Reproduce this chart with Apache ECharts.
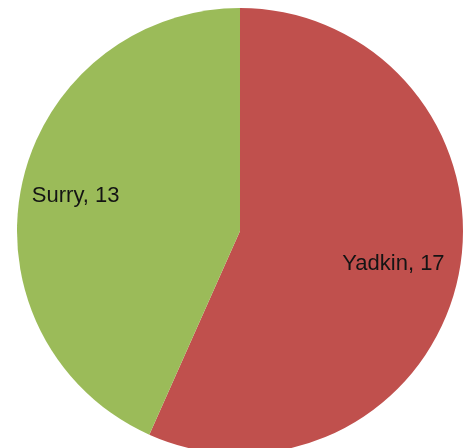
<!DOCTYPE html>
<html>
<head>
<meta charset="utf-8">
<script src="https://cdn.jsdelivr.net/npm/echarts@6/dist/echarts.min.js"></script>
<style>
html,body{margin:0;padding:0;background:#fff;}
#chart{width:465px;height:448px;}
</style>
</head>
<body>
<div id="chart"></div>
<script>
const categories = ["Yadkin", "Surry"];
const values = [17, 13];
const colors = ["#C0504D", "#9BBB59"];
const labelRadiusFrac = [0.69, 0.74];

const R = 223;
const total = values.reduce((a, b) => a + b, 0);
let cum = 0;
const data = categories.map((name, i) => {
  const mid = (cum + values[i] / 2) / total * 2 * Math.PI;
  cum += values[i];
  const extra = (labelRadiusFrac[i] - 0.5) * R;
  return {
    name: name,
    value: values[i],
    itemStyle: { color: colors[i] },
    label: { offset: [Math.sin(mid) * extra, -Math.cos(mid) * extra] }
  };
});

const chart = echarts.init(document.getElementById('chart'), null, { renderer: 'canvas' });
chart.setOption({
  animation: false,
  backgroundColor: '#ffffff',
  series: [{
    type: 'pie',
    center: [240, 231],
    radius: R,
    startAngle: 90,
    clockwise: true,
    avoidLabelOverlap: false,
    itemStyle: { borderWidth: 0 },
    label: {
      show: true,
      position: 'inside',
      formatter: '{b}, {c}',
      color: '#141414',
      fontFamily: 'Liberation Sans, Arial, sans-serif',
      fontSize: 22
    },
    labelLine: { show: false },
    emphasis: { disabled: true },
    data: data
  }]
});
</script>
</body>
</html>
